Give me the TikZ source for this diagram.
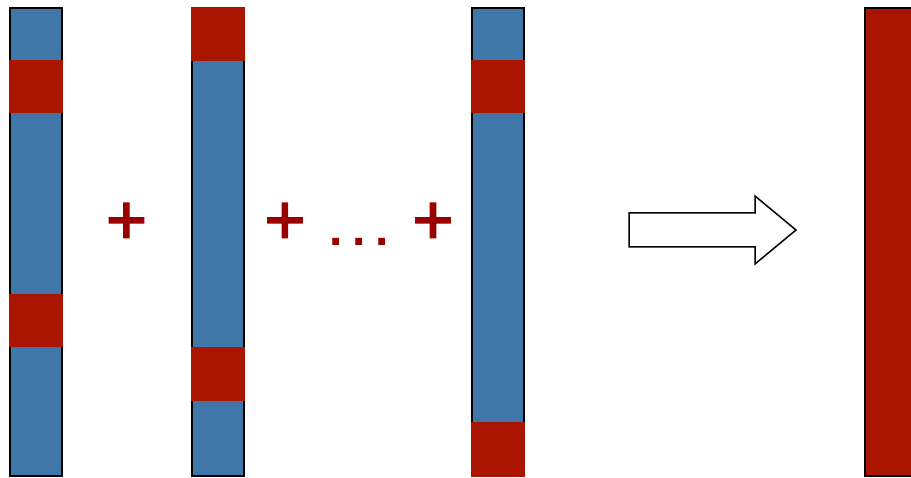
\documentclass[tikz,border=0pt]{standalone}
\usepackage{fontspec}
\setmainfont{Liberation Sans}
\newfontfamily\signfont[FakeBold=2]{Liberation Sans}
\definecolor{barblue}{RGB}{63,120,168}
\definecolor{barred}{RGB}{170,21,0}
\definecolor{signred}{RGB}{153,0,0}
\tikzset{
  bar/.style={draw=black, line width=2pt, fill=barblue, rectangle,
    minimum width=52pt, minimum height=468pt, inner sep=0pt, outer sep=0pt,
    anchor=north west},
  hot/.style={fill=barred},
  sign/.style={text=signred, font=\signfont\fontsize{71}{71}\selectfont,
    inner sep=0pt, outer sep=0pt, anchor=base},
  dotsign/.style={text=signred, font=\bfseries\fontsize{48}{48}\selectfont,
    inner sep=0pt, outer sep=0pt, anchor=base},
  bigarrow/.style={draw=black, line width=1.5pt, fill=white, line join=miter}
}
\begin{document}
\begin{tikzpicture}[x=1pt, y=-1pt]
  \useasboundingbox (0,0) rectangle (911,478);
  \clip (0,0) rectangle (911,478);

  % first vector
  \node[bar] (v1) at (10,8) {};
  \fill[hot] (9,60) rectangle (63,113);
  \fill[hot] (9,294) rectangle (63,347);

  % second vector
  \node[bar] (v2) at (192,8) {};
  \fill[hot] (191,7) rectangle (245,61);
  \fill[hot] (191,347) rectangle (245,401);

  % last vector
  \node[bar] (v3) at (472,8) {};
  \fill[hot] (471,60) rectangle (525,113);
  \fill[hot] (471,422) rectangle (525,477);

  % result vector, running past the right edge
  \node[bar, fill=barred, minimum width=60pt] (res) at (865,8) {};

  % operators between the vectors
  \node[sign] (p1) at (126.5,244) {+};
  \node[sign] (p2) at (285,244) {+};
  \node[dotsign] (dd) at (359.5,246) {.\hspace{9.5pt}.\hspace{9.5pt}.};
  \node[sign] (p3) at (433,244) {+};

  % implication arrow
  \draw[bigarrow] (629,213) -- (755,213) -- (755,196) -- (796,230)
    -- (755,264) -- (755,247) -- (629,247) -- cycle;
  \coordinate (arrowtip) at (796,230);
\end{tikzpicture}
\end{document}
